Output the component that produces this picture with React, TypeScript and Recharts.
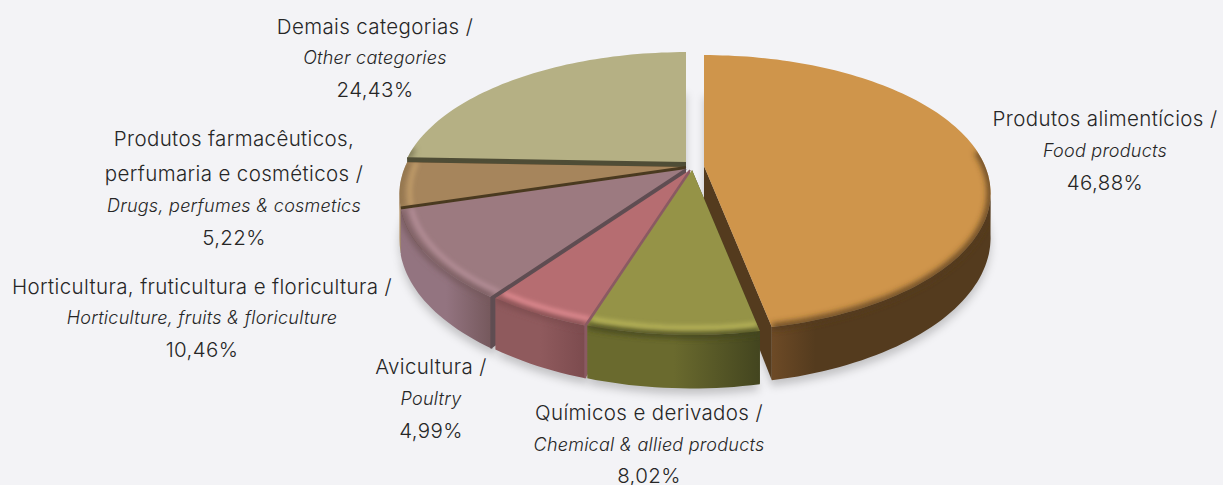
import React from "react";
import { PieChart, Pie } from "recharts";

const W = 1223;
const H = 485;

// Data, in paint order (back to front) so overlapping walls stack like the reference
const categories = ["food", "other", "drugs", "horticulture", "poultry", "chemical"];
const shares = [46.88, 24.43, 5.22, 10.46, 4.99, 8.02];
const labelLines: string[][] = [
  ["Produtos alimentícios /", "Food products", "46,88%"],
  ["Demais categorias /", "Other categories", "24,43%"],
  ["Produtos farmacêuticos,", "perfumaria e cosméticos /", "Drugs, perfumes & cosmetics", "5,22%"],
  ["Horticultura, fruticultura e floricultura /", "Horticulture, fruits & floriculture", "10,46%"],
  ["Avicultura /", "Poultry", "4,99%"],
  ["Químicos e derivados /", "Chemical & allied products", "8,02%"],
];
const pieData = categories.map((name, i) => ({ name, value: shares[i], index: i }));

// Styles
const topColors = ["#cf954b", "#b5b084", "#a6855c", "#9c7a80", "#b66d71", "#959347"];
const rimColors = ["#cf954b", "#bdb88c", "#c29e6b", "#b58f98", "#e28d93", "#bcb85c"];
const wallLeft = ["#6d4a26", "#6f6c4c", "#b8966a", "#937480", "#8f5a5d", "#6a6a2e"];
const wallRight = ["#543b1e", "#6f6c4c", "#8c7048", "#75585c", "#7c4b4e", "#43451f"];
const cutColors = ["#543b1e", "#4f4d36", "#4a3a20", "#5f4d52", "#8a5a62", "#43451f"];
const edgeStroke = [false, true, true, true, true, false];
const edgeDownWall = [false, false, false, true, true, false];
const drawFirstCut = [true, true, true, false, false, false];
const offsets = [
  [14, 0],
  [-4, -3],
  [-4, 1],
  [-4, 3],
  [0, 4],
  [2, 4],
];
const labelCenters = [1105, 375, 234, 202, 431, 649];
const labelBaselines = [
  [126, 157, 190],
  [34, 64, 97],
  [146, 181, 212, 245],
  [294, 324, 357],
  [374, 405, 438],
  [420, 451, 483],
];
const labelItalicLine = [1, 1, 2, 1, 1, 1];

const PERSPECTIVE = 0.196;
const TILT = 0.472;
const DEPTH = 43;
const RAD = Math.PI / 180;

type Pt = { x: number; y: number; s: number; v: number };

function project(cx: number, cy: number, R: number, r: number, angle: number): Pt {
  const u = r * Math.cos(angle * RAD);
  const v = r * Math.sin(angle * RAD);
  const s = 1 / (1 + PERSPECTIVE * v);
  return { x: cx + R * u * s, y: cy - R * TILT * v * s, s, v };
}
function arcPoints(cx: number, cy: number, R: number, r: number, a0: number, a1: number): Pt[] {
  const n = Math.max(2, Math.ceil(Math.abs(a1 - a0) / 1.5));
  const out: Pt[] = [];
  for (let i = 0; i <= n; i++) out.push(project(cx, cy, R, r, a0 + ((a1 - a0) * i) / n));
  return out;
}
const toPath = (pts: { x: number; y: number }[], close = true) =>
  pts.map((p, i) => `${i ? "L" : "M"}${p.x.toFixed(1)} ${p.y.toFixed(1)}`).join(" ") + (close ? " Z" : "");
const drop = (p: Pt) => ({ x: p.x, y: p.y + DEPTH * p.s });

function ShadowSector(props: any) {
  const { cx, cy, outerRadius, startAngle, endAngle, payload } = props;
  const i = (payload ?? props).index;
  const ox = cx + offsets[i][0];
  const oy = cy + offsets[i][1];
  const arc = arcPoints(ox, oy, outerRadius, 1, startAngle, endAngle);
  const apex = project(ox, oy, outerRadius, 0, 0);
  const pts = [apex, ...arc].map((p) => ({ x: p.x, y: p.y + DEPTH * p.s + 6 }));
  return <path d={toPath(pts)} fill="#000" fillOpacity={0.2} filter="url(#pieShadowBlur)" />;
}

function Sector3D(props: any) {
  const { cx, cy, outerRadius, startAngle, endAngle, payload } = props;
  const i = (payload ?? props).index;
  const ox = cx + offsets[i][0];
  const oy = cy + offsets[i][1];
  const R = outerRadius;
  const arc = arcPoints(ox, oy, R, 1, startAngle, endAngle);
  const apex = project(ox, oy, R, 0, 0);
  const top = toPath([apex, ...arc]);
  const first = arc[0];
  const last = arc[arc.length - 1];
  const cut = (p: Pt) => toPath([apex, p, drop(p), drop(apex)]);
  const front = arc.filter((p) => p.v <= -PERSPECTIVE + 0.03);
  const wall = front.length > 1 ? toPath([...front, ...[...front].reverse().map(drop)]) : "";
  const rimPts = arc.filter((p) => p.v <= 0.12);
  const rim = rimPts.length > 1 ? toPath(rimPts, false) : "";
  const inner = arcPoints(ox, oy, R, 0.965, startAngle, endAngle).filter((p) => p.v <= 0.05);
  const innerPath = inner.length > 1 ? toPath(inner, false) : "";
  const xs = front.map((p) => p.x);
  const gid = `wallGrad${i}`;
  const cid = `sliceClip${i}`;
  const edgePts = edgeDownWall[i] ? [apex, last, drop(last)] : [apex, last];
  return (
    <g>
      <defs>
        <linearGradient
          id={gid}
          gradientUnits="userSpaceOnUse"
          x1={xs.length ? Math.min(...xs) : 0}
          x2={xs.length ? Math.max(...xs) : 1}
          y1={0}
          y2={0}
        >
          <stop offset="0" stopColor={wallLeft[i]} />
          <stop offset={i === 0 ? "0.2" : "0.5"} stopColor={i === 0 ? wallRight[i] : wallLeft[i]} />
          <stop offset="1" stopColor={wallRight[i]} />
        </linearGradient>
        <clipPath id={cid}>
          <path d={top} />
          {wall && <path d={wall} />}
        </clipPath>
      </defs>
      {drawFirstCut[i] && <path d={cut(first)} fill={cutColors[i]} />}
      <path d={cut(last)} fill={cutColors[i]} />
      {wall && <path d={wall} fill={`url(#${gid})`} />}
      <path d={top} fill={topColors[i]} />
      <g clipPath={`url(#${cid})`}>
        {rim && (
          <path d={rim} fill="none" stroke={wallRight[i]} strokeWidth={6} filter="url(#pieRimBlurWide)" />
        )}
        {innerPath && rimColors[i] !== topColors[i] && (
          <path d={innerPath} fill="none" stroke={rimColors[i]} strokeWidth={4} filter="url(#pieRimBlur)" />
        )}
      </g>
      {edgeStroke[i] && (
        <path
          d={toPath(edgePts as any, false)}
          fill="none"
          stroke={cutColors[i]}
          strokeWidth={2}
          strokeLinejoin="round"
        />
      )}
    </g>
  );
}

function renderLabel(props: any) {
  const i = props.index;
  const lines = labelLines[i];
  return (
    <g key={i}>
      {lines.map((t, n) => {
        const italic = n === labelItalicLine[i];
        return (
          <text
            key={n}
            x={labelCenters[i]}
            y={labelBaselines[i][n]}
            textAnchor="middle"
            fontFamily="Inter, 'Open Sans', sans-serif"
            fontWeight={300}
            fontStyle={italic ? "italic" : "normal"}
            fontSize={italic ? 18 : 20.5}
            letterSpacing={italic ? 0.25 : 0.37}
            fill="#262626"
          >
            {t}
          </text>
        );
      })}
    </g>
  );
}

const START = 90 - (360 * shares[0]) / 100;

export default function App() {
  return (
    <div style={{ position: "fixed", left: 0, top: 0, width: W, height: H, background: "#f3f3f6", overflow: "hidden" }}>
      <PieChart width={W} height={H} margin={{ top: 0, right: 0, bottom: 0, left: 0 }}>
        <defs>
          <filter id="pieRimBlur" filterUnits="userSpaceOnUse" x="0" y="0" width={W} height={H}>
            <feGaussianBlur stdDeviation="2" />
          </filter>
          <filter id="pieRimBlurWide" filterUnits="userSpaceOnUse" x="0" y="0" width={W} height={H}>
            <feGaussianBlur stdDeviation="3" />
          </filter>
          <filter id="pieShadowBlur" filterUnits="userSpaceOnUse" x="0" y="0" width={W} height={H}>
            <feGaussianBlur stdDeviation="4" />
          </filter>
        </defs>
        <Pie
          data={pieData}
          dataKey="value"
          nameKey="name"
          cx={690}
          cy={166}
          innerRadius={0}
          outerRadius={281}
          startAngle={START}
          endAngle={START + 360}
          paddingAngle={0}
          stroke="none"
          isAnimationActive={false}
          shape={ShadowSector}
          inactiveShape={ShadowSector}
        />
        <Pie
          data={pieData}
          dataKey="value"
          nameKey="name"
          cx={690}
          cy={166}
          innerRadius={0}
          outerRadius={281}
          startAngle={START}
          endAngle={START + 360}
          paddingAngle={0}
          stroke="none"
          isAnimationActive={false}
          shape={Sector3D}
          inactiveShape={Sector3D}
          labelLine={false}
          label={renderLabel}
        />
      </PieChart>
    </div>
  );
}
